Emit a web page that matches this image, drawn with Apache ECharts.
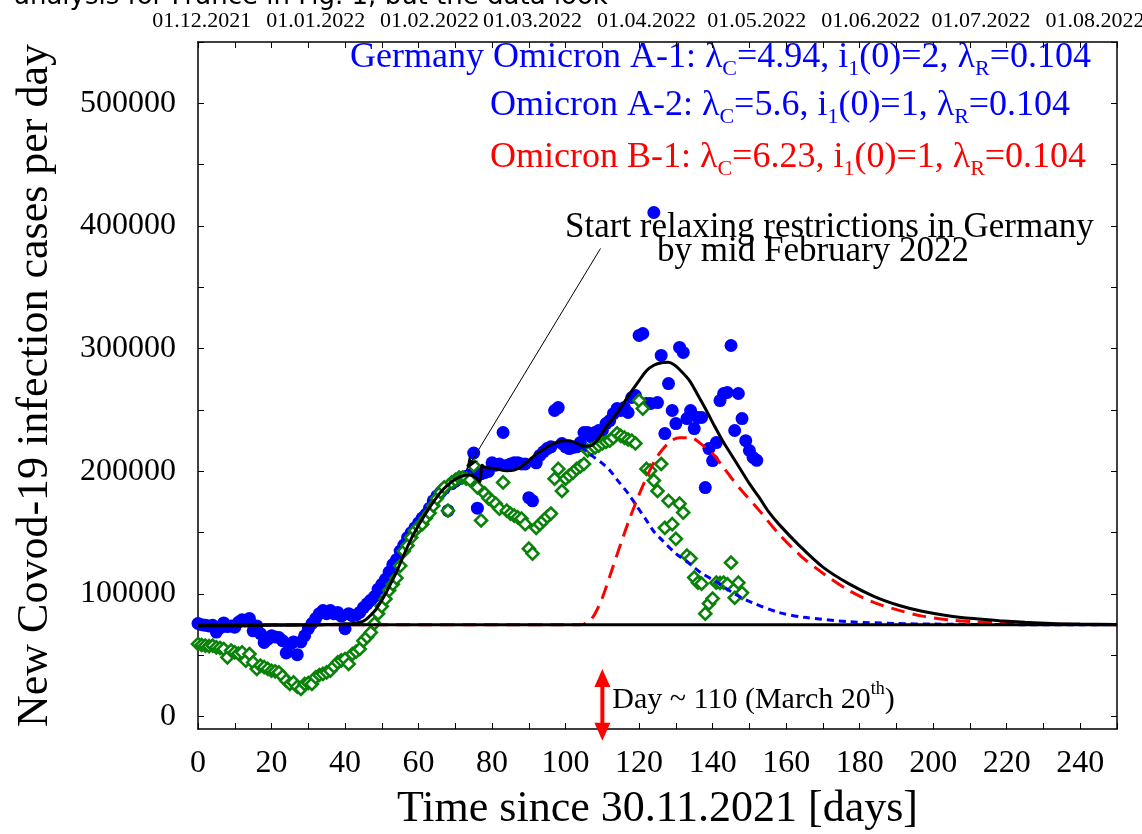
<!DOCTYPE html>
<html><head><meta charset="utf-8">
<script src="https://cdn.jsdelivr.net/npm/echarts@6/dist/echarts.min.js"></script>
<style>html,body{margin:0;padding:0;background:#fff}#c{width:1142px;height:834px}</style>
</head><body><div id="c"></div>
<script>
// ---------- data ----------
// reported daily cases (blue dots), one per day starting at day 0
const blueDots = [76000,75000,74500,74000,74500,69000,72500,76500,73500,74000,
 73000,77000,79000,78000,80000,70000,74000,67700,60600,63300,
 66000,65000,64600,62000,52000,59000,61000,50600,61000,66000,
 71800,76000,80000,84000,86500,84000,86500,84000,85000,82000,
 71800,84000,82400,83000,85000,89000,92000,95000,98000,104000,
 108000,112000,118000,124000,128000,135000,140000,146000,150000,154000,
 158000,162000,165000,170000,176000,180000,183000,186000,168000,190000,
 192000,194000,195000,196000,197000,215000,170000,198000,199000,200000,
 207000,205000,206000,231700,204700,206000,207000,207000,206000,206000,
 178600,176000,207000,213000,216000,218600,220000,249600,252000,222700,
 220000,218600,219500,220000,223500,231700,231700,228000,231700,233300,
 233300,239000,241400,247000,251200,249600,252000,248000,260200,261800,
 310800,312400,255300,255300,411000,256100,294500,230800,271600,249600,
 239000,301000,297000,243000,249600,234900,243900,243900,186800,218600,
 208800,223500,257700,263500,264300,302600,233300,263500,243000,225000,
 217000,211300,209000];
// second data set (green diamonds), one per day starting at day 0
const greenDiamonds = [59300,58500,58000,57500,57900,56500,56000,55200,48400,54000,
 52500,51500,52500,45700,51100,44300,38900,41600,40500,39000,
 37500,37000,36200,33000,29400,26700,28000,24500,22600,26700,
 27500,26700,32100,34000,35000,36200,37500,41000,44300,46000,
 47000,43000,51100,53000,55200,62000,65000,68700,76000,84000,
 90000,96000,103000,108000,113000,123000,135000,139500,146000,151700,
 155000,157000,162000,166000,172000,178000,183000,187000,168000,191000,
 193000,195000,195000,194000,193000,204700,187000,160000,182000,178000,
 176000,173700,169600,191000,168000,165600,164000,162500,161500,157000,
 137000,133000,154000,157000,160000,163000,165600,194000,202000,184000,
 194000,196600,199000,202000,204000,206000,217000,218000,219500,221000,
 222700,224000,225000,227500,231000,229000,227500,226000,225000,222700,
 257700,251200,202000,200600,192500,184000,206000,154000,176000,157000,
 145000,173700,166400,131300,128900,113400,109300,108500,84000,92200,
 96300,109300,109000,109300,108000,125600,97000,109300,101000];
// model total (black solid)
const blackDays = [0,20,40,45,48,50,52,54,56,58,60,62,64,66,68,70,72,74,75.5,76.6,77.3,78,81,84,86,88,90,92,94.8,97,99.3,101,103,105,107,109,111,113,115,117.4,120,122,124,126.4,128,129.5,131,133.7,136,138.3,140.5,142.7,145,147.3,150,152.7,155,158,163.6,170,177,184,191,197,204,211,218,225,232,240,250];
const blackVals = [74000,74500,75500,78000,86000,95000,106000,118000,132000,145000,156000,166000,175000,183000,189000,193500,196500,197000,195000,191500,205000,203500,202000,200500,201000,204000,209000,214000,219500,223000,225000,225000,223000,220500,221000,227000,236000,243500,252000,263000,274000,282000,286500,288700,289000,287000,283000,274000,262000,249600,237000,225000,214000,203000,190000,178600,168000,157000,139500,122000,108500,98000,90500,86000,82400,80000,78300,77000,76000,75500,75200];
// Omicron A (blue dashed)
const blueDashDays = [98,100,103,105,107,110,112,114.2,117,119.3,122,124,126.4,130,133.7,137,141.8,146,150.8,158,165,177,190,200,220,250];
const blueDashVals = [224000,225000,222000,218000,213000,206500,201000,192500,182000,172000,160000,151000,143500,133000,124800,117000,108500,100000,93000,85000,81000,77500,76000,75500,75100,75000];
// Omicron B-1 (red dashed)
const redDashDays = [0,104,105,106.5,108,110,112.8,115,117,119.3,122,124.7,127,129,131,134,137,140,142.5,145,148,152.7,158,164,170,177,184,191,197,204,211,218,230,250];
const redDashVals = [75000,75000,75500,78000,84000,97000,121500,141000,158000,176000,195000,211000,220000,225500,227500,227500,222000,214500,205000,195000,184000,168000,149000,131000,117000,103000,93000,86500,82000,79000,77500,76500,75500,75000];
// baseline
const baselineValue = 75000;
const baselineDays = [0,250];
// annotation arrow (data coordinates)
const annotArrowFrom = [109.5, 381700];
const annotArrowTo = [73, 201200];
// day-110 marker
const markerDay = 110;
const markerTop = 39000, markerBottom = -19600;
// ticks
const xTickLabels = [0,20,40,60,80,100,120,140,160,180,200,220,240];
const yTickLabels = [0,100000,200000,300000,400000,500000];
const yTickMarks = [0,50000,100000,150000,200000,250000,300000,350000,400000,450000,500000,550000];
const dateTickDays = [1,32,63,91,122,152,183,213,244];
const dateTickLabels = ['01.12.2021','01.01.2022','01.02.2022','01.03.2022','01.04.2022','01.05.2022','01.06.2022','01.07.2022','01.08.2022'];

(function(){
const SERIF = '"Liberation Serif","DejaVu Serif",serif';
const zip = (a,b) => a.map((d,i)=>[d,b[i]]);
const chart = echarts.init(document.getElementById('c'));

const axisLineStyle = {color:'#000', width:1.5};
const xBase = {type:'value', min:0, max:250, interval:10, gridIndex:0,
  axisLine:{show:true, onZero:false, lineStyle:axisLineStyle},
  axisTick:{show:true, inside:true, length:6, lineStyle:{color:'#000',width:1}},
  splitLine:{show:false}};
const yBase = {type:'value', min:-10000, max:550000, splitNumber:11, gridIndex:0,
  axisLine:{show:true, onZero:false, lineStyle:axisLineStyle},
  axisTick:{show:true, inside:true, length:6, customValues:yTickMarks, lineStyle:{color:'#000',width:1}},
  splitLine:{show:false}};

const option = {
  animation:false,
  backgroundColor:'#fff',
  grid:{left:198, right:25, top:42, bottom:105, containLabel:false, outerBoundsMode:'none'},
  xAxis:[
    Object.assign({}, xBase, {position:'bottom',
      name:'Time since 30.11.2021 [days]', nameLocation:'middle', nameGap:58,
      nameTextStyle:{fontFamily:SERIF, fontSize:44, color:'#000'},
      axisLabel:{fontFamily:SERIF, fontSize:32, color:'#000', margin:19,
        formatter:v => xTickLabels.indexOf(v) >= 0 ? String(v) : ''}}),
    Object.assign({}, xBase, {position:'top',
      axisLabel:{fontFamily:SERIF, fontSize:22, color:'#000', margin:10,
        customValues:dateTickDays,
        formatter:v => { const i = dateTickDays.indexOf(v); return i >= 0 ? dateTickLabels[i] : ''; }}})
  ],
  yAxis:[
    Object.assign({}, yBase, {position:'left',
      name:'New Covod-19 infection cases per day', nameLocation:'middle', nameGap:141,
      nameTextStyle:{fontFamily:SERIF, fontSize:44, color:'#000'},
      axisLabel:{fontFamily:SERIF, fontSize:32, color:'#000', margin:22,
        customValues:yTickLabels,
        formatter:v => yTickLabels.indexOf(v) >= 0 ? String(v) : ''}}),
    Object.assign({}, yBase, {position:'right', axisLabel:{show:false}})
  ],
  series:[
    {type:'scatter', name:'blue', data:blueDots.map((v,i)=>[i,v]), symbol:'circle', symbolSize:13,
      itemStyle:{color:'#0000ff', opacity:1}, z:2},
    {type:'scatter', name:'green', data:greenDiamonds.map((v,i)=>[i,v]), symbol:'diamond', symbolSize:12,
      itemStyle:{color:'#ffffff', borderColor:'#0a820a', borderWidth:2.6, opacity:1}, z:3},
    {type:'line', name:'A', data:zip(blueDashDays, blueDashVals), showSymbol:false, smooth:0.3,
      lineStyle:{color:'#0000ff', width:3, type:[7,5]}, z:4},
    {type:'line', name:'B1', data:zip(redDashDays, redDashVals), showSymbol:false, smooth:0.3,
      lineStyle:{color:'#ff0000', width:3, type:[14,8]}, z:4},
    {type:'line', name:'base', data:baselineDays.map(d=>[d, baselineValue]), showSymbol:false,
      lineStyle:{color:'#000', width:3}, z:5},
    {type:'line', name:'total', data:zip(blackDays, blackVals), showSymbol:false, smooth:0.3,
      lineStyle:{color:'#000', width:3}, z:6,
      markLine:{silent:true, symbol:['none','arrow'], symbolSize:[8,14], label:{show:false},
        lineStyle:{color:'#000', width:1, type:'solid'},
        data:[[{coord:annotArrowFrom},{coord:annotArrowTo}]]}}
  ]
};
chart.setOption(option);

const pTop = chart.convertToPixel({xAxisIndex:0, yAxisIndex:0}, [markerDay, markerTop]);
const pBot = chart.convertToPixel({xAxisIndex:0, yAxisIndex:0}, [markerDay, markerBottom]);
const mx = pTop[0], ah = 18, aw = 8;
const blue = '#0000ff', red = '#ff0000';
const legRich = (c) => ({
  a:{fontFamily:SERIF, fontSize:36, fill:c, lineHeight:44},
  s:{fontFamily:SERIF, fontSize:22, fill:c, lineHeight:20, verticalAlign:'bottom'}
});
chart.setOption({graphic:[
  {type:'text', id:'cut', left:14, top:-16, style:{text:'analysis for France in Fig. 1, but the data look',
    font:'26px "DejaVu Sans"', fill:'#000'}},
  {type:'text', id:'l1', left:350, top:40, style:{text:'{a|Germany Omicron A-1: λ}{s|C}{a|=4.94, i}{s|1}{a|(0)=2, λ}{s|R}{a|=0.104}', rich:legRich(blue)}},
  {type:'text', id:'l2', left:490, top:88, style:{text:'{a|Omicron A-2: λ}{s|C}{a|=5.6, i}{s|1}{a|(0)=1, λ}{s|R}{a|=0.104}', rich:legRich(blue)}},
  {type:'text', id:'l3', left:490, top:140, style:{text:'{a|Omicron B-1: λ}{s|C}{a|=6.23, i}{s|1}{a|(0)=1, λ}{s|R}{a|=0.104}', rich:legRich(red)}},
  {type:'text', id:'an1', left:565, top:210, style:{text:'Start relaxing restrictions in Germany', fontFamily:SERIF, fontSize:35, fill:'#000'}},
  {type:'text', id:'an2', left:657, top:234, style:{text:'by mid February 2022', fontFamily:SERIF, fontSize:35, fill:'#000'}},
  {type:'text', id:'day', left:mx+10, top:680, style:{text:'{m|Day ~ 110 (March 20}{p|th}{m|)}',
    rich:{m:{fontFamily:SERIF, fontSize:30, fill:'#000', lineHeight:40}, p:{fontFamily:SERIF, fontSize:18, fill:'#000', lineHeight:20, verticalAlign:'top'}}}},
  {type:'line', id:'ra', shape:{x1:mx, y1:pTop[1]+ah-2, x2:mx, y2:pBot[1]-ah+2}, style:{stroke:red, lineWidth:4}, z:50},
  {type:'polygon', id:'rt', shape:{points:[[mx,pTop[1]],[mx-aw,pTop[1]+ah],[mx+aw,pTop[1]+ah]]}, style:{fill:red}, z:50},
  {type:'polygon', id:'rb', shape:{points:[[mx,pBot[1]],[mx-aw,pBot[1]-ah],[mx+aw,pBot[1]-ah]]}, style:{fill:red}, z:50}
]});
})();
</script>
</body></html>
